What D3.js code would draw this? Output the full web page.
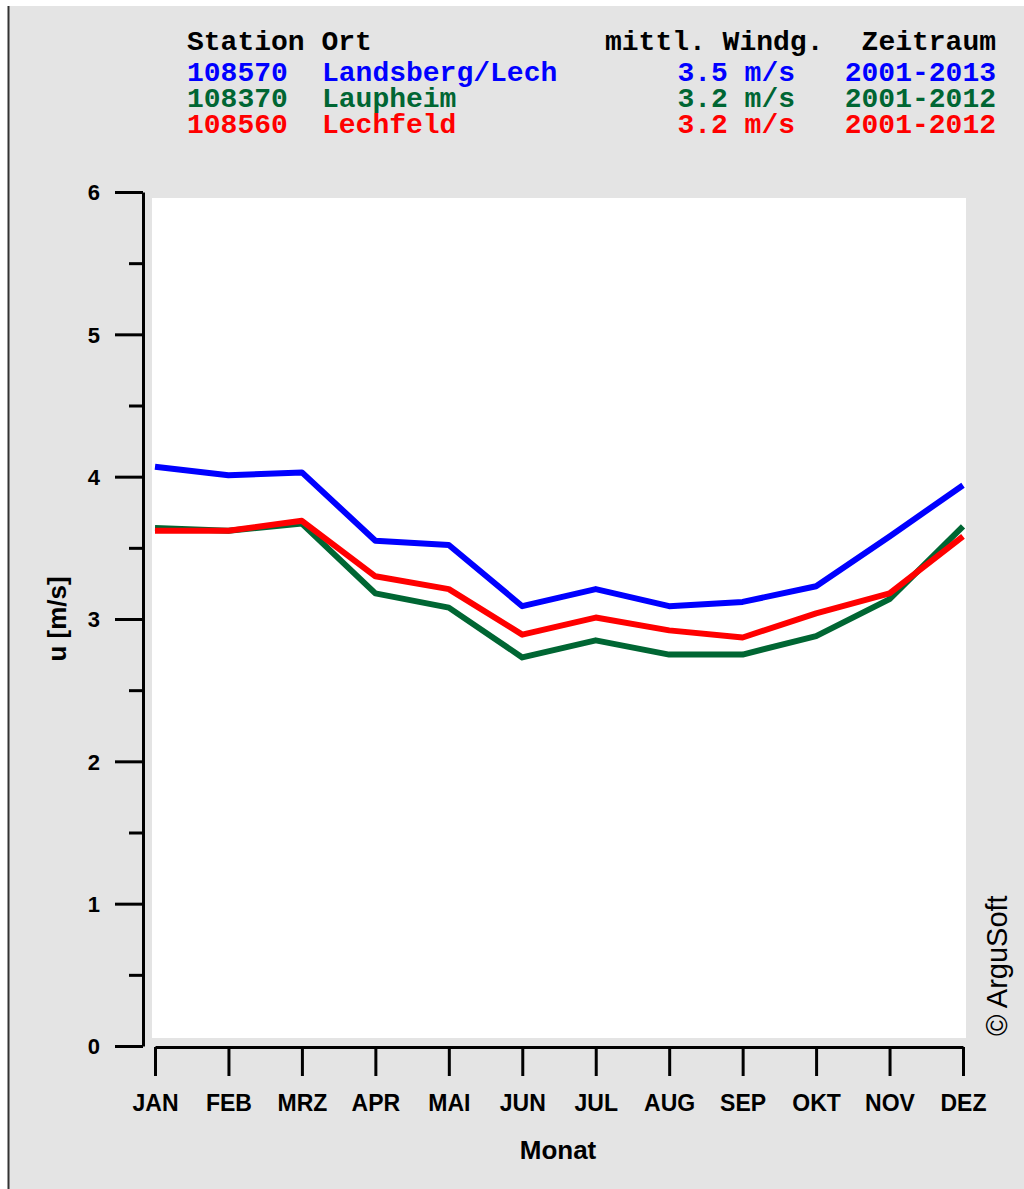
<!DOCTYPE html>
<html>
<head>
<meta charset="utf-8">
<script src="https://cdn.jsdelivr.net/npm/d3@7"></script>
<style>
  html, body { margin: 0; padding: 0; background: #ffffff; }
  svg { display: block; }
  .hdr { font-family: "Liberation Mono", "Courier New", monospace; font-weight: bold; font-size: 28px; }
  .ax text { font-family: "Liberation Sans", Arial, sans-serif; font-weight: bold; }
</style>
</head>
<body>
<script>
// Monthly mean wind speed (m/s) for three DWD stations
const months = ["JAN", "FEB", "MRZ", "APR", "MAI", "JUN", "JUL", "AUG", "SEP", "OKT", "NOV", "DEZ"];
const landsberg = [4.07, 4.01, 4.03, 3.55, 3.52, 3.09, 3.21, 3.09, 3.12, 3.23, 3.58, 3.94];
const laupheim  = [3.64, 3.62, 3.67, 3.18, 3.08, 2.73, 2.85, 2.75, 2.75, 2.88, 3.14, 3.65];
const lechfeld  = [3.62, 3.62, 3.69, 3.30, 3.21, 2.89, 3.01, 2.92, 2.87, 3.04, 3.18, 3.58];
const yTicks = [0, 1, 2, 3, 4, 5, 6];
const yMinorTicks = [0.5, 1.5, 2.5, 3.5, 4.5, 5.5];

const stations = [
  { id: "108570", name: "Landsberg/Lech", mean: "3.5 m/s", period: "2001-2013", color: "#0000ff", values: landsberg },
  { id: "108370", name: "Laupheim",       mean: "3.2 m/s", period: "2001-2012", color: "#006633", values: laupheim },
  { id: "108560", name: "Lechfeld",       mean: "3.2 m/s", period: "2001-2012", color: "#ff0000", values: lechfeld }
];

const W = 1024, H = 1189;
const svg = d3.select("body").append("svg").attr("width", W).attr("height", H);

// panel background and left frame line
svg.append("rect").attr("x", 9).attr("y", 6).attr("width", W - 9).attr("height", H - 6).attr("fill", "#e4e4e4");
svg.append("line").attr("x1", 8.5).attr("x2", 8.5).attr("y1", 6).attr("y2", H)
  .attr("stroke", "#333").attr("stroke-width", 2);

// plot area
svg.append("rect").attr("x", 152).attr("y", 198).attr("width", 814).attr("height", 840).attr("fill", "#ffffff");

const x = d3.scalePoint().domain(months).range([155, 963]);
const y = d3.scaleLinear().domain([0, 6]).range([1046, 192]);

// y axis: major ticks with labels
const yAxis = svg.append("g").attr("class", "ax").attr("transform", "translate(143,0)")
  .call(d3.axisLeft(y).tickValues(yTicks).tickFormat(d3.format("d")).tickSize(28).tickSizeOuter(0).tickPadding(15));
yAxis.select(".domain").attr("stroke", "#000").attr("stroke-width", 3);
yAxis.selectAll(".tick line").attr("stroke", "#000").attr("stroke-width", 3);
yAxis.selectAll(".tick text").style("font-size", "22px").attr("fill", "#000").attr("dy", "0.36em");

// y axis: minor ticks
const yMinor = svg.append("g").attr("transform", "translate(143,0)")
  .call(d3.axisLeft(y).tickValues(yMinorTicks).tickFormat("").tickSize(14).tickSizeOuter(0));
yMinor.select(".domain").remove();
yMinor.selectAll(".tick line").attr("stroke", "#000").attr("stroke-width", 3);

// x axis
const xAxis = svg.append("g").attr("class", "ax").attr("transform", "translate(0,1047)")
  .call(d3.axisBottom(x).tickSize(29).tickSizeOuter(0));
xAxis.select(".domain").attr("stroke", "#000").attr("stroke-width", 3);
xAxis.selectAll(".tick line").attr("stroke", "#000").attr("stroke-width", 3);
xAxis.selectAll(".tick text").style("font-size", "23px").attr("fill", "#000").attr("y", 64).attr("dy", 0);

// axis titles
svg.append("text").attr("x", 558).attr("y", 1159).attr("text-anchor", "middle")
  .attr("font-family", "Liberation Sans, Arial, sans-serif").attr("font-weight", "bold").style("font-size", "26px")
  .text("Monat");
svg.append("text").attr("transform", "translate(66,619) rotate(-90)").attr("text-anchor", "middle")
  .attr("font-family", "Liberation Sans, Arial, sans-serif").attr("font-weight", "bold").style("font-size", "26px")
  .text("u [m/s]");

// copyright
svg.append("text").attr("transform", "translate(1007,1036) rotate(-90)").attr("text-anchor", "start")
  .attr("font-family", "Liberation Sans, Arial, sans-serif").style("font-size", "29px").attr("fill", "#000")
  .text("© ArguSoft");

// lines
const line = d3.line().x((d, i) => x(months[i])).y(d => y(d));
svg.append("g").selectAll("path").data(stations).join("path")
  .attr("d", d => line(d.values))
  .attr("fill", "none")
  .attr("stroke", d => d.color)
  .attr("stroke-width", 6)
  .attr("stroke-linejoin", "round");

// station table header
const hdr = svg.append("g").attr("class", "hdr");
hdr.append("text").attr("x", 187).attr("y", 50).text("Station Ort");
hdr.append("text").attr("x", 605).attr("y", 50).text("mittl. Windg.");
hdr.append("text").attr("x", 996).attr("y", 50).attr("text-anchor", "end").text("Zeitraum");

const rowY = [81, 107, 133];
stations.forEach((s, i) => {
  const g = hdr.append("g").attr("fill", s.color);
  g.append("text").attr("x", 187).attr("y", rowY[i]).text(s.id);
  g.append("text").attr("x", 322).attr("y", rowY[i]).text(s.name);
  g.append("text").attr("x", 795).attr("y", rowY[i]).attr("text-anchor", "end").text(s.mean);
  g.append("text").attr("x", 996).attr("y", rowY[i]).attr("text-anchor", "end").text(s.period);
});
</script>
</body>
</html>
